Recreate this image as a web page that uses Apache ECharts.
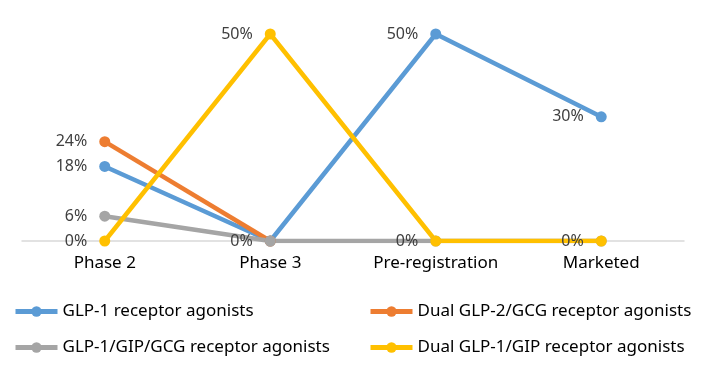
<!DOCTYPE html>
<html><head><meta charset="utf-8">
<script src="https://cdn.jsdelivr.net/npm/echarts@6/dist/echarts.min.js"></script>
<style>html,body{margin:0;padding:0;background:#fff}#c{width:707px;height:372px}</style>
</head><body><div id="c"></div>
<script>
const categories = ['Phase 2', 'Phase 3', 'Pre-registration', 'Marketed'];
const seriesNames = ['GLP-1 receptor agonists', 'Dual GLP-2/GCG receptor agonists', 'GLP-1/GIP/GCG receptor agonists', 'Dual GLP-1/GIP receptor agonists'];
const glp1 = [18, 0, 50, 30];
const dualGlp2Gcg = [24, 0, null, null];
const triGlp1GipGcg = [6, 0, 0, 0];
const dualGlp1Gip = [0, 50, 0, 0];
const colors = ['#5B9BD5', '#ED7D31', '#A5A5A5', '#FFC000'];
const values = [glp1, dualGlp2Gcg, triGlp1GipGcg, dualGlp1Gip];
const font = '"Noto Sans", sans-serif';

const chart = echarts.init(document.getElementById('c'));
const legendText = { fontFamily: font, fontSize: 17, color: '#000' };
const legendBase = { orient: 'vertical', top: 298, itemGap: 19, itemWidth: 42, itemHeight: 13,
  textStyle: legendText, lineStyle: { width: 5 } };
chart.setOption({
  animation: false,
  color: colors,
  grid: { left: 22, right: 23, top: 34, bottom: 131 },
  xAxis: {
    type: 'category', data: categories, boundaryGap: true,
    axisLine: { lineStyle: { color: '#d9d9d9', width: 1.5 } },
    axisTick: { show: false },
    axisLabel: { fontFamily: font, fontSize: 17, color: '#000', margin: 14 }
  },
  yAxis: { type: 'value', min: 0, max: 50, show: false, splitLine: { show: false } },
  legend: [
    Object.assign({ left: 8, data: [seriesNames[0], seriesNames[2]] }, legendBase),
    Object.assign({ left: 363, data: [seriesNames[1], seriesNames[3]] }, legendBase)
  ],
  series: values.map((v, i) => ({
    name: seriesNames[i], type: 'line', data: v,
    symbol: 'circle', symbolSize: 11,
    lineStyle: { width: 4.5, color: colors[i] },
    itemStyle: { color: colors[i] },
    labelLayout: { hideOverlap: true },
    label: { show: true, position: 'left', distance: 12, formatter: '{c}%',
      fontFamily: font, fontSize: 16, color: '#404040' }
  }))
});
</script></body></html>
